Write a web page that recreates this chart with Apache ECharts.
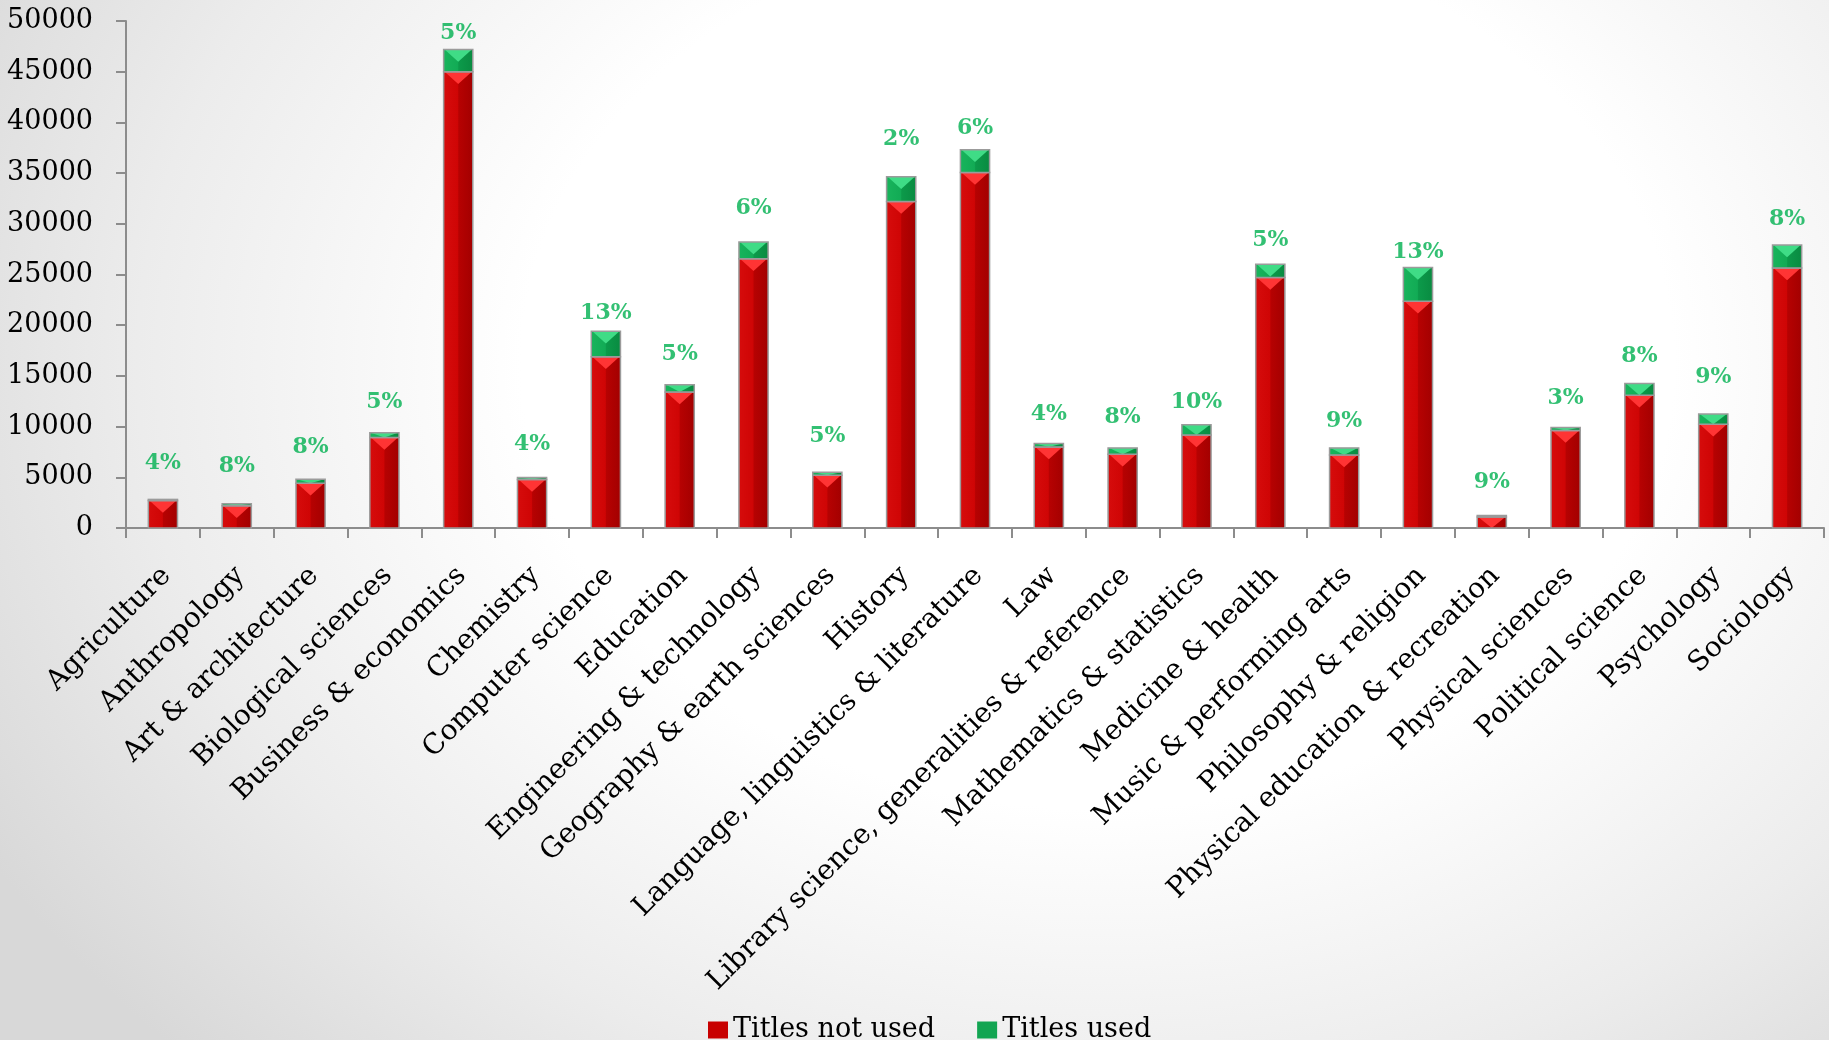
<!DOCTYPE html>
<html>
<head>
<meta charset="utf-8">
<script src="https://cdn.jsdelivr.net/npm/echarts@6/dist/echarts.min.js"></script>
<style>
html,body{margin:0;padding:0;overflow:hidden;}
#chart{width:1829px;height:1040px;background:radial-gradient(ellipse 70% 95% at 60% 35%, #ffffff 0%, #ffffff 45%, #ececec 75%, #d8d8d8 100%);}
</style>
</head>
<body>
<div id="chart"></div>
<script>
// ---- data ----
const categories = [
  "Agriculture", "Anthropology", "Art & architecture", "Biological sciences",
  "Business & economics", "Chemistry", "Computer science", "Education",
  "Engineering & technology", "Geography & earth sciences", "History",
  "Language, linguistics & literature", "Law", "Library science, generalities & reference",
  "Mathematics & statistics", "Medicine & health", "Music & performing arts",
  "Philosophy & religion", "Physical education & recreation", "Physical sciences",
  "Political science", "Psychology", "Sociology"
];
const titlesNotUsed = [2700, 2200, 4420, 8930, 45000, 4780, 16900, 13420, 26550, 5210, 32200,
  35050, 8000, 7270, 9170, 24700, 7190, 22350, 1080, 9610, 13100, 10230, 25650];
const titlesUsed = [120, 190, 380, 470, 2200, 200, 2500, 710, 1650, 280, 2450,
  2250, 340, 630, 1020, 1300, 710, 3350, 150, 300, 1140, 1010, 2250];
const pctLabels = ["4%", "8%", "8%", "5%", "5%", "4%", "13%", "5%", "6%", "5%", "2%",
  "6%", "4%", "8%", "10%", "5%", "9%", "13%", "9%", "3%", "8%", "9%", "8%"];
// baseline height (data units) at which each percentage label sits
const pctLabelY = [5620, 5380, 7190, 11680, 48060, 7530, 20470, 16350, 30760, 8280, 37640,
  38660, 10490, 10150, 11610, 27590, 9740, 26500, 3780, 12020, 16210, 14130, 29730];
const seriesNames = ["Titles not used", "Titles used"];
const yMin = 0, yMax = 50000, yInterval = 5000;

// ---- styling ----
const FONT = "'DejaVu Serif', 'Liberation Serif', serif";
const BAR_RATIO = 0.395;
const G = echarts.graphic;
const redFill = new G.LinearGradient(0, 0, 1, 0, [
  {offset: 0, color: '#d60c0c'}, {offset: 0.48, color: '#cf0505'},
  {offset: 0.52, color: '#b60202'}, {offset: 1, color: '#a30000'}]);
const greenFill = new G.LinearGradient(0, 0, 1, 0, [
  {offset: 0, color: '#18b45c'}, {offset: 0.48, color: '#12ab55'},
  {offset: 0.52, color: '#0c9a4a'}, {offset: 1, color: '#098b41'}]);

function makeRender(fill, bevel) {
  return function (params, api) {
    const idx = api.value(0);
    const lo = api.value(1), hi = api.value(2);
    const pLo = api.coord([idx, lo]);
    const pHi = api.coord([idx, hi]);
    const w = api.size([1, 0])[0] * BAR_RATIO;
    const x = pLo[0] - w / 2;
    const top = pHi[1];
    const h = pLo[1] - pHi[1];
    const th = Math.min(h, w * 0.42);
    return {
      type: 'group',
      children: [
        {type: 'rect', shape: {x: x, y: top, width: w, height: h}, style: {fill: fill}},
        {type: 'polygon', shape: {points: [[x + 1, top], [x + w - 1, top], [x + w / 2, top + th]]},
          style: {fill: bevel}},
        {type: 'rect', shape: {x: x, y: top, width: w, height: h},
          style: {fill: null, stroke: '#9b9b9b', lineWidth: 1.5}}
      ]
    };
  };
}

const redData = categories.map((c, i) => [i, 0, titlesNotUsed[i]]);
const greenData = categories.map((c, i) => [i, titlesNotUsed[i], titlesNotUsed[i] + titlesUsed[i]]);
const labelData = categories.map((c, i) => [i, pctLabelY[i]]);

const chart = echarts.init(document.getElementById('chart'), null, {renderer: 'canvas'});
chart.setOption({
  animation: false,
  backgroundColor: 'transparent',
  grid: {left: 126, right: 5, top: 21, bottom: 512, containLabel: false},
  legend: {
    data: seriesNames,
    left: 703, top: 1010,
    icon: 'rect', itemWidth: 20, itemHeight: 17, itemGap: 42,
    textStyle: {fontFamily: FONT, fontSize: 27, color: '#000', lineHeight: 30}
  },
  xAxis: {
    type: 'category',
    data: categories,
    axisLine: {lineStyle: {color: '#8c8c8c', width: 2}},
    axisTick: {show: true, length: 10, lineStyle: {color: '#8c8c8c', width: 2}},
    axisLabel: {
      interval: 0, rotate: 45, align: 'right', verticalAlign: 'top', lineHeight: 10,
      margin: 40, fontFamily: FONT, fontSize: 28, color: '#000'
    },
    splitLine: {show: false}
  },
  yAxis: {
    type: 'value', min: yMin, max: yMax, interval: yInterval,
    axisLine: {show: true, lineStyle: {color: '#8c8c8c', width: 2}},
    axisTick: {show: true, length: 10, lineStyle: {color: '#8c8c8c', width: 2}},
    axisLabel: {margin: 33, fontFamily: FONT, fontSize: 27, color: '#000',
      formatter: v => String(v)},
    splitLine: {show: false}
  },
  series: [
    {
      name: seriesNames[0], type: 'custom',
      renderItem: makeRender(redFill, '#ff3434'),
      encode: {x: 0, y: [1, 2]},
      itemStyle: {color: '#c80000'},
      data: redData, z: 2
    },
    {
      name: seriesNames[1], type: 'custom',
      renderItem: makeRender(greenFill, '#3fdc86'),
      encode: {x: 0, y: [1, 2]},
      itemStyle: {color: '#12a552'},
      data: greenData, z: 2
    },
    {
      name: 'pct', type: 'scatter', symbolSize: 0, silent: true, z: 5,
      data: labelData,
      label: {
        show: true, position: 'top', distance: 0, offset: [0, 4],
        formatter: p => pctLabels[p.dataIndex],
        fontFamily: FONT, fontWeight: 'bold', fontSize: 22, color: '#00b050', lineHeight: 23
      }
    }
  ]
});
</script>
</body>
</html>
